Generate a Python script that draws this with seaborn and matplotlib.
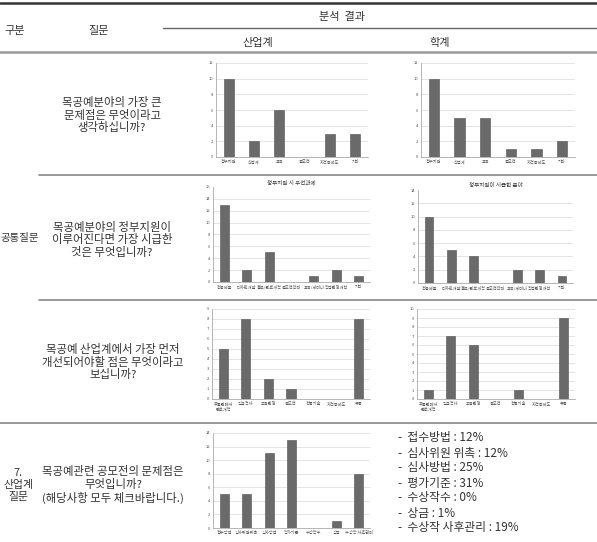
import numpy as np
import pandas as pd
import matplotlib
matplotlib.use("Agg")
import matplotlib.pyplot as plt
from matplotlib.lines import Line2D
import seaborn as sns

cat_q1 = ["정부지원", "산업계", "교육", "공모전", "자격증제도", "기타"]
q1_industry = [10, 2, 6, 0, 3, 3]
q1_academic = [10, 5, 5, 1, 1, 2]

cat_q2 = ["전용제품", "디자인개발", "홍보/판로개척", "공모전확대", "교육/세미나", "작업환경개선", "기타"]
q2_industry = [13, 2, 5, 0, 1, 2, 1]
q2_academic = [10, 5, 4, 0, 2, 2, 1]
q2_title_industry = "정부지원 시 우선과제"
q2_title_academic = "정부지원이 시급한 분야"

cat_q3 = ["주물판매처\n판로개척", "임금격차", "고용환경", "공모전", "전통기술", "자격증제도", "유통"]
q3_industry = [5, 8, 2, 1, 0, 0, 8]
q3_academic = [1, 7, 6, 0, 1, 0, 9]

cat_q4 = ["접수방법", "심사위원위촉", "심사방법", "평가기준", "수상작수", "상금", "수상작 사후관리"]
q4_industry = [5, 5, 11, 13, 0, 1, 8]
q4_academic_pct = ["접수방법 : 12%", "심사위원 위촉 : 12%", "심사방법 : 25%", "평가기준 : 31%",
                   "수상작수 : 0%", "상금 : 1%", "수상작 사후관리 : 19%"]

sns.set_style("white")
plt.rcParams['font.family'] = ['Noto Sans CJK KR', 'DejaVu Sans']

W, H = 597, 542
fig = plt.figure(figsize=(W / 100, H / 100), dpi=100)


def hline(y, x0=0, x1=W, lw=1.2, color="#888888"):
    fig.add_artist(Line2D([x0 / W, x1 / W], [1 - y / H, 1 - y / H],
                          transform=fig.transFigure, lw=lw, color=color))


def txt(x, y, s, size=8, ha="center"):
    fig.text(x / W, 1 - y / H, s, fontsize=size, ha=ha, va="center", color="#333333")


def bar_chart(x0, y0, x1, y1, cats, vals, ymax, step, title=None, top_grid=True):
    ax = fig.add_axes([x0 / W, 1 - y1 / H, (x1 - x0) / W, (y1 - y0) / H])
    df = pd.DataFrame({"cat": cats, "val": vals})
    sns.barplot(data=df, x="cat", y="val", ax=ax, color="#6a6a6a",
                edgecolor="#505050", linewidth=0.4, width=0.4, saturation=1)
    ax.set_ylim(0, ymax)
    ax.set_yticks(np.arange(0, ymax + 0.1, step))
    ax.yaxis.grid(True, color="#d9d9d9", lw=0.5)
    ax.set_axisbelow(True)
    if not top_grid:
        ax.yaxis.get_gridlines()[-1].set_visible(False)
    ax.set_xlabel("")
    ax.set_ylabel("")
    ax.tick_params(axis="both", labelsize=3, length=0, pad=2, colors="#555555")
    for s in ["top", "right"]:
        ax.spines[s].set_visible(False)
    for s in ["left", "bottom"]:
        ax.spines[s].set_color("#999999")
        ax.spines[s].set_linewidth(0.5)
    if title:
        ax.set_title(title, fontsize=4, pad=2, color="#333333")
    return ax


# ---- table rules ----
hline(3, lw=1.8, color="#333333")
hline(28, 163, W, lw=1.0, color="#666666")
hline(52, lw=1.8, color="#999999")
hline(175, 39, W)
hline(300, 39, W)
hline(423, 0, W)

# ---- header ----
txt(15, 31, "구분")
txt(99, 31, "질문")
txt(342, 17, "분석  결과")
txt(258, 43, "산업계")
txt(440, 43, "학계")

# ---- left column ----
txt(20, 238, "공통질문", size=7.5)
txt(112, 115, "목공예분야의 가장 큰\n문제점은 무엇이라고\n생각하십니까?", size=8.2)
txt(112, 240, "목공예분야의 정부지원이\n이루어진다면 가장 시급한\n것은 무엇입니까?", size=8.2)
txt(113, 362, "목공예 산업계에서 가장 먼저\n개선되어야할 점은 무엇이라고\n보십니까?", size=8.2)
txt(18, 485, "7.\n산업계\n질문", size=7.8)
txt(113, 485, "목공예관련 공모전의 문제점은\n무엇입니까?\n(해당사항 모두 체크바랍니다.)", size=8.2)

# ---- charts ----
bar_chart(216, 63, 368, 157, cat_q1, q1_industry, 12, 2)
bar_chart(421, 63, 575, 157, cat_q1, q1_academic, 12, 2)
bar_chart(213, 187, 370, 282, cat_q2, q2_industry, 16, 2, q2_title_industry, top_grid=False)
bar_chart(418, 190, 573, 283, cat_q2, q2_academic, 14, 2, q2_title_academic, top_grid=False)
bar_chart(212, 309, 370, 399, cat_q3, q3_industry, 9, 1)
bar_chart(417, 309, 575, 399, cat_q3, q3_academic, 10, 1)
bar_chart(213, 433, 370, 528, cat_q4, q4_industry, 14, 2)

# ---- percentage list ----
for i, s in enumerate(q4_academic_pct):
    txt(398, 438 + i * 15, "-  " + s, size=8.5, ha="left")

fig.savefig("out.png", dpi=100)
